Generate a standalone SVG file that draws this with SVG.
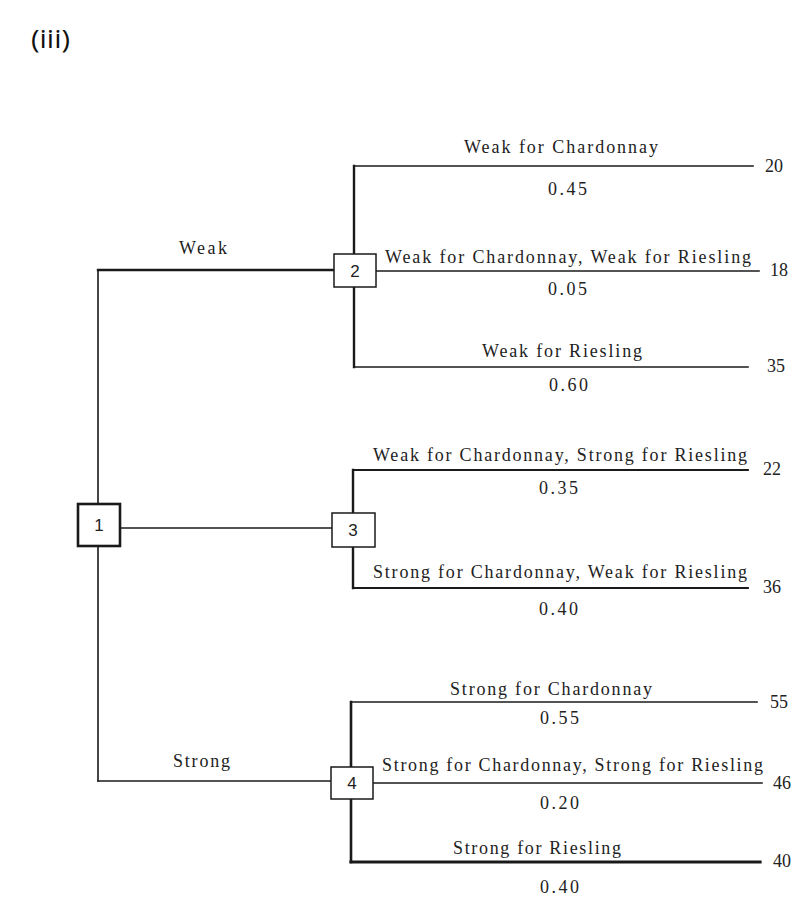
<svg xmlns="http://www.w3.org/2000/svg" width="800" height="912" viewBox="0 0 800 912">
<style>
.t{font-family:"Liberation Serif","Times New Roman",serif;font-size:18px;fill:#222}
.n{font-family:"Liberation Sans",Arial,sans-serif;font-size:17px;fill:#222;text-anchor:middle}
.l{stroke:#1a1a1a;fill:none;stroke-linecap:square}
.box{fill:#fff;stroke:#1a1a1a;stroke-width:1.5}
</style>
<rect width="800" height="912" fill="#fff"/>
<text x="31" y="48" font-family="'Open Sans','Noto Sans',sans-serif" font-size="25" fill="#111" textLength="39" lengthAdjust="spacingAndGlyphs">(iii)</text>
<g id="connectors">
  <path class="l" d="M98 270V503M98 547V781" stroke-width="1.6"/>
  <path class="l" d="M98 270H333" stroke-width="2.4"/>
  <path class="l" d="M121 528H332" stroke-width="1.5"/>
  <path class="l" d="M98 781H331" stroke-width="1.5"/>
  <path class="l" d="M354 166V254M354 287V367" stroke-width="2.4"/>
  <path class="l" d="M354 166H753" stroke-width="1.6"/>
  <path class="l" d="M376 271H759" stroke-width="1.6"/>
  <path class="l" d="M354 367H748" stroke-width="1.6"/>
  <path class="l" d="M353 470V513M353 547V588" stroke-width="2.4"/>
  <path class="l" d="M353 470H748" stroke-width="1.8"/>
  <path class="l" d="M353 588H748" stroke-width="1.8"/>
  <path class="l" d="M351 702V767M351 799V862" stroke-width="2.6"/>
  <path class="l" d="M351 702H757" stroke-width="1.6"/>
  <path class="l" d="M373 783H762" stroke-width="1.6"/>
  <path class="l" d="M351 862H760" stroke-width="3.2"/>
</g>
<g id="labels">
  <text class="t" x="179" y="254" textLength="48" lengthAdjust="spacing">Weak</text>
  <text class="t" x="173" y="767" textLength="57" lengthAdjust="spacing">Strong</text>
  <text class="t" x="464" y="153" textLength="194" lengthAdjust="spacing">Weak for Chardonnay</text>
  <text class="t" x="548" y="195" textLength="39" lengthAdjust="spacing">0.45</text>
  <text class="t" x="385" y="263" textLength="366" lengthAdjust="spacing">Weak for Chardonnay, Weak for Riesling</text>
  <text class="t" x="548" y="295" textLength="39" lengthAdjust="spacing">0.05</text>
  <text class="t" x="482" y="357" textLength="160" lengthAdjust="spacing">Weak for Riesling</text>
  <text class="t" x="549" y="391" textLength="39" lengthAdjust="spacing">0.60</text>
  <text class="t" x="373" y="461" textLength="374" lengthAdjust="spacing">Weak for Chardonnay, Strong for Riesling</text>
  <text class="t" x="539" y="494" textLength="39" lengthAdjust="spacing">0.35</text>
  <text class="t" x="373" y="578" textLength="374" lengthAdjust="spacing">Strong for Chardonnay, Weak for Riesling</text>
  <text class="t" x="539" y="615" textLength="39" lengthAdjust="spacing">0.40</text>
  <text class="t" x="450" y="695" textLength="202" lengthAdjust="spacing">Strong for Chardonnay</text>
  <text class="t" x="540" y="724" textLength="39" lengthAdjust="spacing">0.55</text>
  <text class="t" x="382" y="771" textLength="381" lengthAdjust="spacing">Strong for Chardonnay, Strong for Riesling</text>
  <text class="t" x="540" y="809" textLength="39" lengthAdjust="spacing">0.20</text>
  <text class="t" x="453" y="854" textLength="168" lengthAdjust="spacing">Strong for Riesling</text>
  <text class="t" x="540" y="893" textLength="39" lengthAdjust="spacing">0.40</text>
</g>
<g id="payoffs">
  <text class="t" x="765" y="172">20</text>
  <text class="t" x="770" y="276">18</text>
  <text class="t" x="767" y="372">35</text>
  <text class="t" x="763" y="475">22</text>
  <text class="t" x="763" y="593">36</text>
  <text class="t" x="770" y="708">55</text>
  <text class="t" x="773" y="789">46</text>
  <text class="t" x="773" y="867">40</text>
</g>
<g id="node1"><rect x="78" y="504" width="42" height="42" fill="#fff" stroke="#1a1a1a" stroke-width="2.6"/><text class="n" x="99" y="531">1</text></g>
<g id="node2"><rect class="box" x="334" y="254" width="42" height="33"/><text class="n" x="355" y="277">2</text></g>
<g id="node3"><rect class="box" x="332" y="513" width="43" height="34"/><text class="n" x="353" y="536">3</text></g>
<g id="node4"><rect class="box" x="331" y="767" width="42" height="32"/><text class="n" x="352" y="789">4</text></g>
</svg>
